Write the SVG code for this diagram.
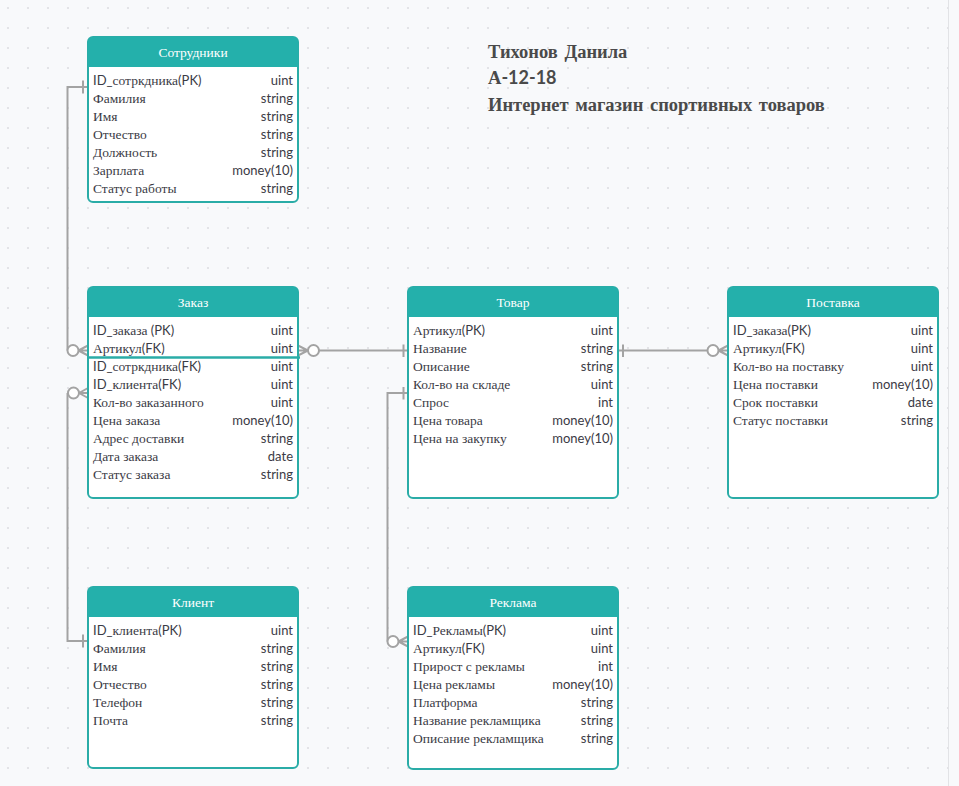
<svg xmlns="http://www.w3.org/2000/svg" width="959" height="786" viewBox="0 0 959 786">
<defs>
<pattern id="dots" patternUnits="userSpaceOnUse" x="0" y="0" width="20" height="20">
<circle cx="8" cy="8" r="1" fill="#dcdde0"/>
</pattern>
</defs>
<style>
.box{fill:#ffffff;stroke:#2aaca7;stroke-width:2}
.hdr{fill:#24b0ab}
.ht{font-family:'Liberation Serif',serif;font-size:13.5px;fill:#ffffff;text-anchor:middle}
.r{font-family:'Liberation Serif',serif;font-size:13.5px;fill:#3b3b45}
.l{font-family:Lato,'Liberation Sans',sans-serif;font-size:13px}
.t{font-family:Lato,'Liberation Sans',sans-serif;font-size:13px;fill:#3b3b45;text-anchor:end}
.ln{fill:none;stroke:#a3a3a3;stroke-width:2}
.circ{fill:#ffffff;stroke:#a3a3a3;stroke-width:2}
.title{font-family:'Liberation Serif',serif;font-weight:bold;font-size:18.5px;fill:#4a4a4a;word-spacing:2px}
</style>
<rect x="0" y="0" width="959" height="786" fill="#f8f9fb"/>
<rect x="0" y="0" width="948" height="786" fill="url(#dots)"/>
<line x1="948.5" y1="0" x2="948.5" y2="786" stroke="#e2e3e6" stroke-width="1"/>

<g id="title">
<text class="title" x="488" y="58">Тихонов Данила</text>
<text class="title" x="488" y="84">А<tspan font-family="Lato,'Liberation Sans',sans-serif" font-size="18px">-12-18</tspan></text>
<text class="title" x="488" y="111" font-size="18.3px">Интернет магазин спортивных товаров</text>
</g>

<g id="connectors">
<path class="ln" d="M88 87 H67.5 V350.5"/>
<line class="ln" x1="83" y1="80.5" x2="83" y2="93.5"/>
<path class="ln" d="M78.5 350.5 L88 345.5 M78.5 350.5 L88 350.5 M78.5 350.5 L88 355.5"/>
<circle class="circ" cx="73" cy="350.5" r="5.5"/>
<path class="ln" d="M88 641 H67.5 V393"/>
<line class="ln" x1="83" y1="634.5" x2="83" y2="647.5"/>
<path class="ln" d="M79 393 L88 388 M79 393 L88 393 M79 393 L88 398"/>
<circle class="circ" cx="73.5" cy="393" r="5.5"/>
<path class="ln" d="M298 345.5 L308 350.5 L298 355.5 M298 350.5 H308"/>
<line class="ln" x1="319" y1="350.5" x2="408" y2="350.5"/>
<line class="ln" x1="403.5" y1="344.5" x2="403.5" y2="357"/>
<circle class="circ" cx="313.5" cy="350.5" r="5.5"/>
<line class="ln" x1="618" y1="350.5" x2="707.5" y2="350.5"/>
<line class="ln" x1="623" y1="344.5" x2="623" y2="357"/>
<path class="ln" d="M718.5 350.5 L728 345.5 M718.5 350.5 L728 350.5 M718.5 350.5 L728 355.5"/>
<circle class="circ" cx="713" cy="350.5" r="5.5"/>
<path class="ln" d="M408 393 H387.5 V641.5"/>
<line class="ln" x1="403.5" y1="387" x2="403.5" y2="399.5"/>
<path class="ln" d="M398.5 641.5 L408 636.5 M398.5 641.5 L408 641.5 M398.5 641.5 L408 646.5"/>
<circle class="circ" cx="393" cy="641.5" r="5.5"/>
</g>

<g id="sotrudniki">
<rect class="box" x="88" y="37" width="210" height="165" rx="5"/>
<path class="hdr" d="M88 67 V42 a5 5 0 0 1 5 -5 H293 a5 5 0 0 1 5 5 V67 Z"/>
<text class="ht" x="193" y="57">Сотрудники</text>
<text class="r" x="93" y="84.7"><tspan class="l">ID_</tspan>сотркдника<tspan class="l">(PK)</tspan></text><text class="t" x="293" y="84.7">uint</text>
<text class="r" x="93" y="102.7">Фамилия</text><text class="t" x="293" y="102.7">string</text>
<text class="r" x="93" y="120.7">Имя</text><text class="t" x="293" y="120.7">string</text>
<text class="r" x="93" y="138.7">Отчество</text><text class="t" x="293" y="138.7">string</text>
<text class="r" x="93" y="156.7">Должность</text><text class="t" x="293" y="156.7">string</text>
<text class="r" x="93" y="174.7">Зарплата</text><text class="t" x="293" y="174.7">money(10)</text>
<text class="r" x="93" y="192.7">Статус работы</text><text class="t" x="293" y="192.7">string</text>
</g>

<g id="zakaz">
<rect class="box" x="88" y="287" width="210" height="211" rx="5"/>
<path class="hdr" d="M88 317 V292 a5 5 0 0 1 5 -5 H293 a5 5 0 0 1 5 5 V317 Z"/>
<text class="ht" x="193" y="307">Заказ</text>
<text class="r" x="93" y="334.7"><tspan class="l">ID_</tspan>заказа<tspan class="l"> (PK)</tspan></text><text class="t" x="293" y="334.7">uint</text>
<text class="r" x="93" y="352.7">Артикул<tspan class="l">(FK)</tspan></text><text class="t" x="293" y="352.7">uint</text>
<line x1="88" y1="357.5" x2="300" y2="357.5" stroke="#2aaca7" stroke-width="2.5"/>
<text class="r" x="93" y="370.7"><tspan class="l">ID_</tspan>сотркдника<tspan class="l">(FK)</tspan></text><text class="t" x="293" y="370.7">uint</text>
<text class="r" x="93" y="388.7"><tspan class="l">ID_</tspan>клиента<tspan class="l">(FK)</tspan></text><text class="t" x="293" y="388.7">uint</text>
<text class="r" x="93" y="406.7">Кол-во заказанного</text><text class="t" x="293" y="406.7">uint</text>
<text class="r" x="93" y="424.7">Цена заказа</text><text class="t" x="293" y="424.7">money(10)</text>
<text class="r" x="93" y="442.7">Адрес доставки</text><text class="t" x="293" y="442.7">string</text>
<text class="r" x="93" y="460.7">Дата заказа</text><text class="t" x="293" y="460.7">date</text>
<text class="r" x="93" y="478.7">Статус заказа</text><text class="t" x="293" y="478.7">string</text>
</g>

<g id="tovar">
<rect class="box" x="408" y="287" width="210" height="211" rx="5"/>
<path class="hdr" d="M408 317 V292 a5 5 0 0 1 5 -5 H613 a5 5 0 0 1 5 5 V317 Z"/>
<text class="ht" x="513" y="307">Товар</text>
<text class="r" x="413" y="334.7">Артикул<tspan class="l">(PK)</tspan></text><text class="t" x="613" y="334.7">uint</text>
<text class="r" x="413" y="352.7">Название</text><text class="t" x="613" y="352.7">string</text>
<text class="r" x="413" y="370.7">Описание</text><text class="t" x="613" y="370.7">string</text>
<text class="r" x="413" y="388.7">Кол-во на складе</text><text class="t" x="613" y="388.7">uint</text>
<text class="r" x="413" y="406.7">Спрос</text><text class="t" x="613" y="406.7">int</text>
<text class="r" x="413" y="424.7">Цена товара</text><text class="t" x="613" y="424.7">money(10)</text>
<text class="r" x="413" y="442.7">Цена на закупку</text><text class="t" x="613" y="442.7">money(10)</text>
</g>

<g id="postavka">
<rect class="box" x="728" y="287" width="210" height="211" rx="5"/>
<path class="hdr" d="M728 317 V292 a5 5 0 0 1 5 -5 H933 a5 5 0 0 1 5 5 V317 Z"/>
<text class="ht" x="833" y="307">Поставка</text>
<text class="r" x="733" y="334.7"><tspan class="l">ID_</tspan>заказа<tspan class="l">(PK)</tspan></text><text class="t" x="933" y="334.7">uint</text>
<text class="r" x="733" y="352.7">Артикул<tspan class="l">(FK)</tspan></text><text class="t" x="933" y="352.7">uint</text>
<text class="r" x="733" y="370.7">Кол-во на поставку</text><text class="t" x="933" y="370.7">uint</text>
<text class="r" x="733" y="388.7">Цена поставки</text><text class="t" x="933" y="388.7">money(10)</text>
<text class="r" x="733" y="406.7">Срок поставки</text><text class="t" x="933" y="406.7">date</text>
<text class="r" x="733" y="424.7">Статус поставки</text><text class="t" x="933" y="424.7">string</text>
</g>

<g id="klient">
<rect class="box" x="88" y="587" width="210" height="181" rx="5"/>
<path class="hdr" d="M88 617 V592 a5 5 0 0 1 5 -5 H293 a5 5 0 0 1 5 5 V617 Z"/>
<text class="ht" x="193" y="607">Клиент</text>
<text class="r" x="93" y="634.7"><tspan class="l">ID_</tspan>клиента<tspan class="l">(PK)</tspan></text><text class="t" x="293" y="634.7">uint</text>
<text class="r" x="93" y="652.7">Фамилия</text><text class="t" x="293" y="652.7">string</text>
<text class="r" x="93" y="670.7">Имя</text><text class="t" x="293" y="670.7">string</text>
<text class="r" x="93" y="688.7">Отчество</text><text class="t" x="293" y="688.7">string</text>
<text class="r" x="93" y="706.7">Телефон</text><text class="t" x="293" y="706.7">string</text>
<text class="r" x="93" y="724.7">Почта</text><text class="t" x="293" y="724.7">string</text>
</g>

<g id="reklama">
<rect class="box" x="408" y="587" width="210" height="182" rx="5"/>
<path class="hdr" d="M408 617 V592 a5 5 0 0 1 5 -5 H613 a5 5 0 0 1 5 5 V617 Z"/>
<text class="ht" x="513" y="607">Реклама</text>
<text class="r" x="413" y="634.7"><tspan class="l">ID_</tspan>Рекламы<tspan class="l">(PK)</tspan></text><text class="t" x="613" y="634.7">uint</text>
<text class="r" x="413" y="652.7">Артикул<tspan class="l">(FK)</tspan></text><text class="t" x="613" y="652.7">uint</text>
<text class="r" x="413" y="670.7">Прирост с рекламы</text><text class="t" x="613" y="670.7">int</text>
<text class="r" x="413" y="688.7">Цена рекламы</text><text class="t" x="613" y="688.7">money(10)</text>
<text class="r" x="413" y="706.7">Платформа</text><text class="t" x="613" y="706.7">string</text>
<text class="r" x="413" y="724.7">Название рекламщика</text><text class="t" x="613" y="724.7">string</text>
<text class="r" x="413" y="742.7">Описание рекламщика</text><text class="t" x="613" y="742.7">string</text>
</g>
</svg>
